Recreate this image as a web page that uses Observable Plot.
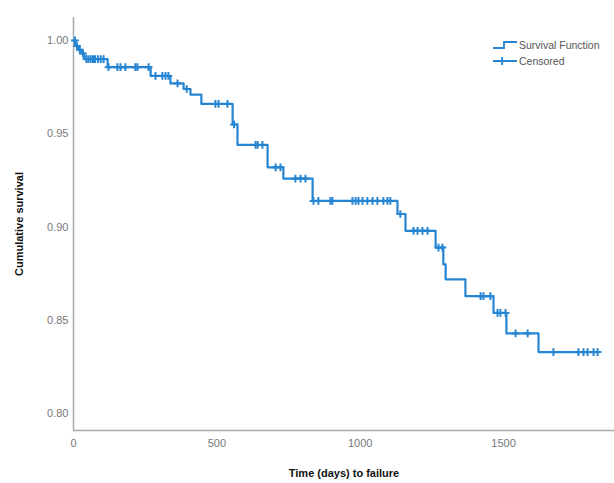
<!DOCTYPE html>
<html>
<head>
<meta charset="utf-8">
<script src="https://cdn.jsdelivr.net/npm/d3@7"></script>
<script src="https://cdn.jsdelivr.net/npm/@observablehq/plot@0.6"></script>
<style>
  html, body { margin: 0; padding: 0; background: #fff; }
  #wrap { position: relative; width: 614px; height: 483px; overflow: hidden; font-family: "Liberation Sans", Arial, sans-serif; }
  #wrap svg g[aria-label="x-axis label"] text,
  #wrap svg g[aria-label="y-axis label"] text { font-weight: bold; fill: #111; }
  #legend { position: absolute; left: 489px; top: 34px; }
</style>
</head>
<body>
<div id="wrap"></div>
<script>
// Step times (days) where the survival estimate changes, and the new value
const eventTimes = [0, 7, 17, 28, 38, 119, 269, 338, 384, 408, 446, 555, 572, 677, 732, 834, 1130, 1158, 1263, 1290, 1298, 1367, 1465, 1510, 1622, 1828];
const survival   = [1.000, 0.997, 0.995, 0.993, 0.990, 0.9857, 0.981, 0.977, 0.974, 0.971, 0.966, 0.955, 0.944, 0.932, 0.926, 0.914, 0.907, 0.898, 0.889, 0.880, 0.872, 0.863, 0.854, 0.843, 0.833, 0.833];
// Censored observation times (days)
const censoredTimes = [5, 12, 22, 33, 45, 52, 60, 68, 75, 85, 95, 105, 122, 153, 164, 181, 216, 223, 262, 286, 310, 321, 331, 363, 395, 495, 506, 537, 560, 635, 642, 659, 705, 722, 774, 792, 809, 837, 854, 896, 903, 973, 984, 994, 1008, 1025, 1043, 1060, 1081, 1095, 1105, 1140, 1186, 1200, 1217, 1235, 1273, 1287, 1420, 1430, 1454, 1479, 1489, 1507, 1542, 1584, 1674, 1761, 1779, 1793, 1814, 1828];
const yTicks = [0.80, 0.85, 0.90, 0.95, 1.00];
const xTicks = [0, 500, 1000, 1500];

const lineColor = "#2585d2";
const curve = eventTimes.map((t, i) => ({t, s: survival[i]}));
const censored = censoredTimes.map(t => {
  const i = Math.max(0, d3.bisectRight(eventTimes, t) - 1);
  return {t, s: survival[i]};
});

const yMin = 0.791, yMax = 1.0123;
const chart = Plot.plot({
  width: 614,
  height: 483,
  marginLeft: 73,
  marginRight: 0,
  marginTop: 17,
  marginBottom: 53,
  style: {fontFamily: "Liberation Sans, Arial, sans-serif", fontSize: "11px", color: "#666", background: "#fff"},
  x: {domain: [0, 1887]},
  y: {domain: [yMin, yMax]},
  marks: [
    Plot.axisX({ticks: xTicks, tickFormat: d3.format("d"), tickSize: 0, tickPadding: 9, label: "Time (days) to failure", labelAnchor: "center", labelArrow: "none", labelOffset: 46, fill: "#777"}),
    Plot.axisY({ticks: yTicks, tickFormat: d3.format(".2f"), tickSize: 0, tickPadding: 5, label: "Cumulative survival", labelAnchor: "center", labelArrow: "none", labelOffset: 58, fill: "#777"}),
    Plot.ruleX([0], {stroke: "#aaa", strokeWidth: 1.5}),
    Plot.ruleY([yMin], {stroke: "#aaa", strokeWidth: 1.5}),
    Plot.line(curve, {x: "t", y: "s", curve: "step-after", stroke: lineColor, strokeWidth: 2.2}),
    Plot.dot(censored, {x: "t", y: "s", symbol: "plus", r: 2.6, stroke: lineColor, strokeWidth: 2})
  ]
});
const wrap = document.getElementById("wrap");
wrap.appendChild(chart);

const legend = document.createElement("div");
legend.id = "legend";
legend.innerHTML = `
<svg width="130" height="34" style="overflow:visible;font-family:'Liberation Sans',Arial,sans-serif">
  <path d="M4,14 H15 V8 H28" fill="none" stroke="${lineColor}" stroke-width="1.8"/>
  <text x="30" y="15" font-size="10.5" fill="#555">Survival Function</text>
  <path d="M4,27 H28 M13,23 V31" fill="none" stroke="${lineColor}" stroke-width="1.8"/>
  <text x="30" y="31" font-size="10.5" fill="#555">Censored</text>
</svg>`;
wrap.appendChild(legend);
</script>
</body>
</html>
